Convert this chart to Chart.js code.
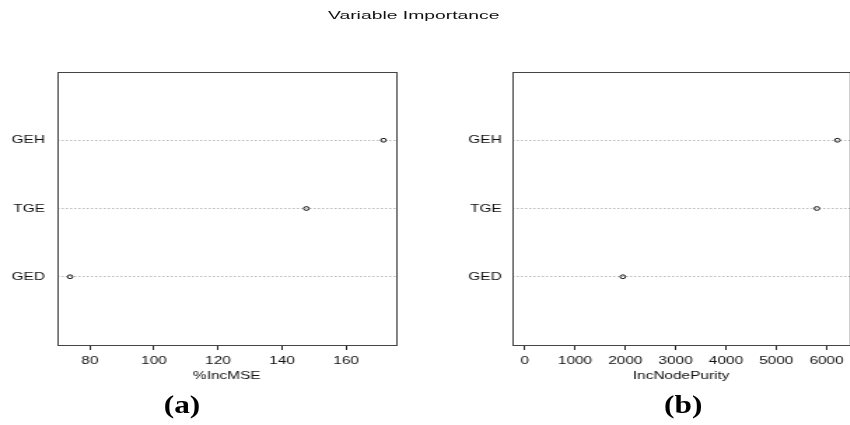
<!DOCTYPE html>
<html><head><meta charset="utf-8">
<script src="https://cdn.jsdelivr.net/npm/chart.js@4"></script>
<style>
html,body{margin:0;padding:0;background:#fff;overflow:hidden;width:850px;height:425px;}
#wrap{position:absolute;left:0;top:0;width:608px;height:425px;transform:scaleX(1.4);transform-origin:0 0;}
canvas{position:absolute;top:0;}
#title{position:absolute;left:0;width:591px;top:8px;text-align:center;font-family:"Liberation Sans",Arial,sans-serif;font-size:11.5px;line-height:14px;color:#111;transform:scaleX(1.2);}
.lab{position:absolute;font-family:"Liberation Serif","Times New Roman",serif;font-weight:bold;font-size:26px;line-height:30px;top:390px;width:100px;text-align:center;color:#000;transform:scaleX(0.86);}
</style></head>
<body>
<div id="wrap">
<div id="title">Variable Importance</div>
<canvas id="ca" width="300" height="425" style="left:0"></canvas>
<canvas id="cb" width="310" height="425" style="left:300px"></canvas>
<div class="lab" style="left:79.8px">(a)</div>
<div class="lab" style="left:438.4px">(b)</div>
</div>
<script>
const categories = ['GED', 'TGE', 'GEH'];
const incMSE = [73.8, 147.6, 171.7];
const incNodePurity = [1950, 5808, 6217];
const ticksA = [80, 100, 120, 140, 160];
const ticksB = [0, 1000, 2000, 3000, 4000, 5000, 6000];

Chart.defaults.font.family = '"Liberation Sans", Arial, sans-serif';
Chart.defaults.font.size = 11;
Chart.defaults.color = '#111';

const boxPlugin = {
  id: 'box',
  afterDraw(chart) {
    const a = chart.chartArea, ctx = chart.ctx;
    ctx.save();
    ctx.strokeStyle = '#444';
    ctx.lineWidth = 1;
    const l = Math.round(a.left) + 0.5, t = Math.round(a.top) + 0.5;
    const r = Math.round(a.right) + 0.5, b = Math.round(a.bottom) + 0.5;
    ctx.strokeRect(l, t, r - l, b - t);
    ctx.restore();
  }
};

function makeChart(id, values, ticks, xLabel, fromZero, yWidth, padRight, labelPad) {
  const lo = fromZero ? 0 : Math.min(...values);
  const hi = Math.max(...values);
  const ext = (hi - lo) * 0.04;
  return new Chart(document.getElementById(id), {
    type: 'scatter',
    data: {
      datasets: [{
        data: values.map((v, i) => ({ x: v, y: i + 1 })),
        pointRadius: 1.9,
        pointHoverRadius: 1.9,
        pointBorderWidth: 1,
        borderColor: '#111',
        pointBackgroundColor: 'rgba(0,0,0,0)',
        showLine: false
      }]
    },
    options: {
      responsive: false,
      animation: false,
      devicePixelRatio: 1,
      layout: { padding: { top: 72, right: padRight, left: 0, bottom: 0 } },
      plugins: { legend: { display: false }, tooltip: { enabled: false } },
      scales: {
        x: {
          type: 'linear',
          min: lo - ext,
          max: hi + ext,
          afterBuildTicks: s => { s.ticks = ticks.map(v => ({ value: v })); },
          afterFit: s => { s.height = 80; },
          grid: { drawOnChartArea: false, drawTicks: true, tickLength: 5, color: '#222', lineWidth: 1 },
          border: { display: false },
          ticks: { padding: 4, maxRotation: 0, autoSkip: false, callback: v => String(v) },
          title: { display: true, text: xLabel, font: { size: 11 }, color: '#111', padding: { top: 0, bottom: 42 } }
        },
        y: {
          type: 'linear',
          min: 0,
          max: categories.length + 1,
          afterBuildTicks: s => { s.ticks = categories.map((c, i) => ({ value: i + 1 })); },
          afterFit: s => { s.width = yWidth; },
          grid: { drawTicks: false, color: '#bbb', lineWidth: 1 },
          border: { display: false, dash: [1.5, 1.5] },
          ticks: { padding: labelPad, autoSkip: false, callback: v => categories[v - 1] }
        }
      }
    },
    plugins: [boxPlugin]
  });
}

makeChart('ca', incMSE, ticksA, '%IncMSE', false, 41.1, 17.1, 9);
makeChart('cb', incNodePurity, ticksB, 'IncNodePurity', true, 65.9, 1, 7.5);
</script>
</body></html>
